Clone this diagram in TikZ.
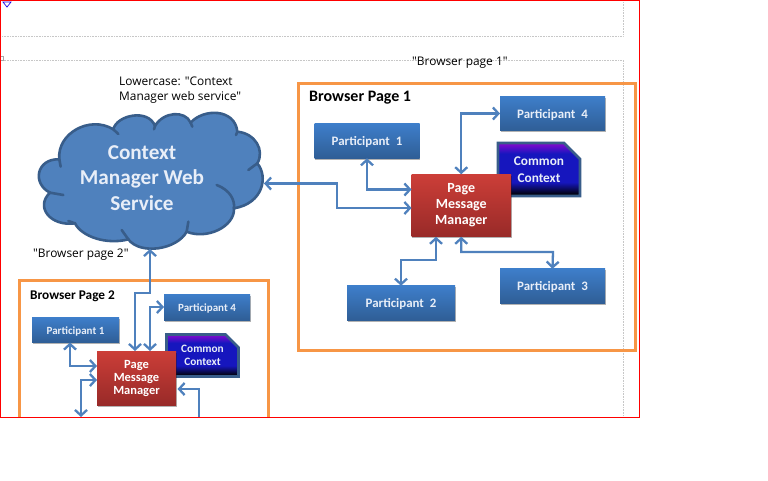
\documentclass[tikz,border=0pt]{standalone}
\usepackage{fontspec}
\setmainfont{Carlito}
\newfontfamily\notefont{Open Sans}
\usetikzlibrary{arrows.meta,shapes.misc,shadows,calc}
\definecolor{linkblue}{HTML}{4F81BD}
\definecolor{cloudedge}{HTML}{385D8A}
\definecolor{orangeedge}{HTML}{F79646}
\definecolor{parttop}{RGB}{62,126,202}
\definecolor{partbot}{RGB}{47,94,150}
\definecolor{pmtop}{RGB}{204,62,56}
\definecolor{pmbot}{RGB}{152,42,40}
\definecolor{cctop}{RGB}{125,10,205}
\definecolor{ccmid}{RGB}{22,22,190}
\definecolor{softwhite}{RGB}{232,238,248}
\pgfdeclareverticalshading{ccshade}{100bp}{color(0bp)=(black); color(26bp)=(black); color(38bp)=(ccmid); color(65bp)=(ccmid); color(74bp)=(cctop); color(100bp)=(cctop)}
\tikzset{
  softshadow/.style={drop shadow={shadow xshift=0.6pt,shadow yshift=-1.6pt,opacity=.3,fill=black}},
  partbox/.style={rectangle,outer sep=0pt,inner sep=0pt,softshadow,top color=parttop,bottom color=partbot,text=softwhite,execute at begin node={\rule{0pt}{0.9em}}},
  pmmbox/.style={rectangle,outer sep=0pt,inner sep=0pt,softshadow,top color=pmtop,bottom color=pmbot,text=white,align=center,execute at begin node={\rule{0pt}{0.85em}}},
  ccbox/.style={chamfered rectangle,chamfered rectangle corners=north east,chamfered rectangle xsep=8pt,chamfered rectangle ysep=8pt,outer sep=0pt,inner sep=0pt,draw=cloudedge,line width=2.8pt,shade,shading=ccshade,text=softwhite,align=center},
  pageframe/.style={draw=orangeedge,line width=3pt},
  link/.style={draw=linkblue,line width=2.3pt,{Straight Barb[length=5.5pt,width=12pt]}-{Straight Barb[length=5.5pt,width=12pt]}},
  guide/.style={draw=black!22,line width=.6pt,densely dotted},
  notetext/.style={font=\notefont\fontsize{11.9}{15}\selectfont,text=black,align=left,anchor=north west,inner sep=0pt},
  pagetitle/.style={anchor=west,inner sep=0pt,text=black},
  cloudline/.style={draw=cloudedge,line width=2.6pt,line cap=round}
}
\begin{document}
\begin{tikzpicture}[x=1pt,y=-1pt]
\useasboundingbox (0,0) rectangle (768,480);
\fill[white] (0,0) rectangle (768,480);
\begin{scope}
\clip (0,0) rectangle (640,417);
% guides
\draw[guide] (2,36) -- (623,36) -- (623,0);
\draw[guide] (2,60) -- (623,60) -- (623,417);
\draw[draw=black!35,line width=.5pt] (0,56) rectangle (3,60);
\draw[blue!80!violet,line width=.7pt,fill=white] (3,2) -- (11,2) -- (7,7) -- cycle;
% cloud
\begin{scope}[x=1pt/3,y=-1pt/3]
\filldraw[cloudline,fill=linkblue] (178,478) .. controls (170,400) and (270,345) .. (340,388)
 .. controls (350,345) and (445,325) .. (465,378)
 .. controls (490,335) and (555,330) .. (572,368)
 .. controls (610,325) and (705,325) .. (712,395)
 .. controls (765,400) and (795,450) .. (772,490)
 .. controls (805,530) and (790,610) .. (702,625)
 .. controls (705,680) and (620,720) .. (560,695)
 .. controls (530,750) and (420,765) .. (385,718)
 .. controls (320,735) and (245,710) .. (225,670)
 .. controls (150,680) and (105,620) .. (150,578)
 .. controls (95,550) and (110,475) .. (178,478) -- cycle;
\draw[cloudline] (340,388) -- (355,402) (465,378) -- (462,388) (572,368) -- (577,380)
 (712,395) -- (708,405) (772,490) -- (745,510)
 (650,555) .. controls (690,570) and (705,600) .. (702,625)
 (565,665) -- (560,695) (365,690) -- (385,718) (225,670) -- (205,663)
 (150,578) -- (190,585) (178,478) -- (182,500);
\end{scope}
\node[text=softwhite,font=\bfseries\fontsize{21.2}{25.4}\selectfont,align=center,inner sep=0pt] (cloud) at (142,178) {Context\\Manager Web\\Service};
\coordinate (cloudE) at (264,183.5);
\coordinate (cloudS) at (150,249);
% page 1
\draw[pageframe] (298,83) rectangle (635,350);
\node[pagetitle,font=\bfseries\fontsize{16}{18}\selectfont] (title1) at (309,98) {Browser Page 1};
\node[partbox,minimum width=105pt,minimum height=34.5pt,font=\bfseries\fontsize{12.9}{15}\selectfont] (a1) at (367,141) {Participant\ \ 1};
\node[partbox,minimum width=105pt,minimum height=34.5pt,font=\bfseries\fontsize{12.9}{15}\selectfont] (a4) at (552.5,113.5) {Participant\ \ 4};
\node[partbox,minimum width=105pt,minimum height=34.5pt,font=\bfseries\fontsize{12.9}{15}\selectfont] (a3) at (552.5,286) {Participant\ \ 3};
\node[partbox,minimum width=108pt,minimum height=34.5pt,font=\bfseries\fontsize{12.9}{15}\selectfont] (a2) at (401,303) {Participant\ \ 2};
\node[ccbox,minimum width=82pt,minimum height=53pt,font=\bfseries\fontsize{13.3}{16.5}\selectfont] (acc) at (539,169.5) {Common\\Context};
\node[pmmbox,minimum width=99.5pt,minimum height=62.5pt,font=\bfseries\fontsize{14}{16}\selectfont] (apm) at (461.25,205.5) {Page\\Message\\Manager};
\coordinate (b1) at (337,183.5);
\coordinate (b2) at (337,208);
\coordinate (b4) at (436,260);
\coordinate (b7) at (553,252);
\draw[link] (cloudE) -- (b1) -- (b2) -- (b2-|apm.west);
\draw[link] (a1.south) |- ([yshift=16pt]apm.west);
\draw[link] (a4.west) -| (apm.north);
\draw[link] (a2.north) |- (b4) -- (b4|-apm.south);
\draw[link] (apm.south) |- (b7) -- (a3.north);
% page 2
\draw[pageframe] (19,430) -- (19,280) -- (268,280) -- (268,430);
\node[pagetitle,font=\bfseries\fontsize{13.3}{15}\selectfont] (title2) at (30,296) {Browser Page 2};
\node[partbox,minimum width=87pt,minimum height=25pt,font=\bfseries\fontsize{11}{13}\selectfont] (c1) at (75.5,330) {Participant 1};
\node[partbox,minimum width=86pt,minimum height=26pt,font=\bfseries\fontsize{11}{13}\selectfont] (c4) at (207,307) {Participant 4};
\node[ccbox,chamfered rectangle xsep=6.5pt,chamfered rectangle ysep=6.5pt,minimum width=72pt,minimum height=42pt,font=\bfseries\fontsize{11.3}{13}\selectfont] (ccc) at (202.5,355.5) {Common\\Context};
\node[pmmbox,minimum width=79pt,minimum height=54pt,font=\bfseries\fontsize{12.5}{13}\selectfont] (cpm) at (136.5,378) {Page\\Message\\Manager};
\coordinate (d1) at (150,293);
\coordinate (d2) at (135,293);
\coordinate (d3) at (70,366);
\coordinate (d4) at (81,380);
\coordinate (d5) at (81,417);
\coordinate (d6) at (199,389);
\coordinate (d7) at (199,425);
\coordinate (d8) at (150,351);
\draw[link] (cloudS) -- (d1) -- (d2) -- (d2|-cpm.north);
\draw[link] (c4.west) -| (d8);
\draw[link] ([xshift=-5.5pt]c1.south) -- (d3) -- (d3-|cpm.west);
\draw[link] (d4-|cpm.west) -- (d4) -- (d5);
\draw[link] ([xshift=1.5pt]d6-|cpm.east) -- (d6) -- (d7);
% notes
\node[notetext] (n1) at (119,77) {Lowercase: "Context\\Manager web service"};
\node[notetext] (n2) at (33,248.5) {"Browser page 2"};
\node[notetext] (n3) at (412,57) {"Browser page 1"};
\end{scope}
\draw[red,line width=1.4pt] (0.5,417.5) -- (0.5,0.5) -- (639.5,0.5) -- (639.5,417.5) -- cycle;
\end{tikzpicture}
\end{document}
